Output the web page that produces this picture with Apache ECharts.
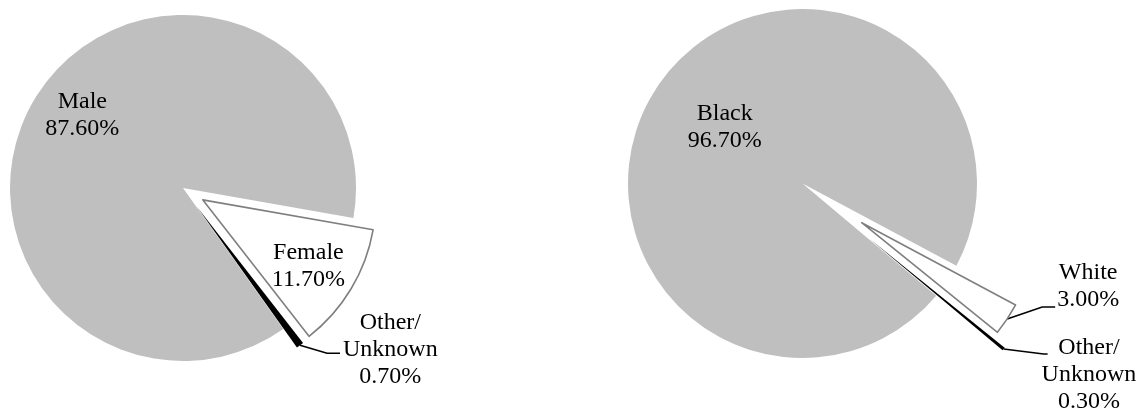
<!DOCTYPE html>
<html><head><meta charset="utf-8">
<script src="https://cdn.jsdelivr.net/npm/echarts@6/dist/echarts.min.js"></script>
<style>html,body{margin:0;padding:0;background:#fff}#c{width:1142px;height:411px}</style>
</head><body><div id="c"></div>
<script>
// ---- data ----
const genderLabels = ['Male', 'Female', 'Other/\nUnknown'];
const genderValues = [87.6, 11.7, 0.7];
const raceLabels = ['Black', 'White', 'Other/\nUnknown'];
const raceValues = [96.7, 3.0, 0.3];

// ---- styles ----
const GRAY = '#bfbfbf', EDGE = '#7f7f7f', INK = '#000000';
const FONT = "'Liberation Serif','Times New Roman',serif";
const textStyle = {fontFamily: FONT, fontSize: 24, lineHeight: 27, color: INK};

function fmt(name, v) {
  return (name + '\n' + v.toFixed(2) + '%').split('\n').map(t => '{t|' + t + '}').join('\n');
}

function pieSeries(names, values, cfg) {
  return names.map((nm, k) => {
    const s = cfg.slices[k];
    return {
      type: 'pie', silent: true, animation: false, avoidLabelOverlap: false,
      center: cfg.center, radius: cfg.radius, startAngle: cfg.startAngle, clockwise: true,
      selectedMode: 'multiple', selectedOffset: s.offset,
      emphasis: {disabled: true},
      data: names.map((n, i) => i === k ? {
        name: n, value: values[i], selected: s.offset > 0,
        itemStyle: {color: s.fill, borderColor: s.edge || s.fill, borderWidth: s.edge ? 1.6 : 0},
        label: Object.assign({show: true, position: s.pos, distanceToLabelLine: 0,
          formatter: () => fmt(n, values[i]),
          rich: {t: Object.assign({align: 'center'}, textStyle)}}, textStyle),
        labelLine: {show: s.pos === 'outside', length: 10, length2: 20, smooth: false,
          lineStyle: {color: INK, width: 1.6}}
      } : {
        name: n, value: values[i],
        itemStyle: {color: 'rgba(0,0,0,0)', borderWidth: 0},
        label: {show: false}, labelLine: {show: false}
      }),
      labelLayout: function (p) {
        if (p.dataIndex !== k) return {};
        if (s.line && p.labelLinePoints) {
          const d = p.labelLinePoints;
          const p0 = d[0];
          const p1 = [p0[0] + s.line[0], p0[1] + s.line[1]];
          const p2 = [p1[0] + s.line[2], p1[1]];
          const last = d[d.length - 1];
          return {
            labelLinePoints: [p0, p1, p2],
            dx: p2[0] + s.gap - last[0],
            dy: p2[1] + s.shift - last[1]
          };
        }
        return {dx: s.shift[0], dy: s.shift[1]};
      }
    };
  });
}

const series = [].concat(
  pieSeries(genderLabels, genderValues, {
    center: [183, 188], radius: 173, startAngle: -54.6,
    slices: [
      {fill: GRAY, offset: 0, pos: 'inside', shift: [-25, -25]},
      {fill: '#ffffff', edge: EDGE, offset: 23, pos: 'inside', shift: [29, 20]},
      {fill: INK, offset: 23, pos: 'outside', line: [27, 8, 13], gap: 3, shift: -4}
    ]
  }),
  pieSeries(raceLabels, raceValues, {
    center: [802.5, 183.5], radius: 174.5, startAngle: -40,
    slices: [
      {fill: GRAY, offset: 0, pos: 'inside', shift: [-3, -6]},
      {fill: '#ffffff', edge: EDGE, offset: 71, pos: 'outside', line: [35, -12, 13], gap: 2, shift: -21},
      {fill: INK, offset: 86, pos: 'outside', line: [40, 5, 4], gap: -6, shift: 21}
    ]
  })
);

const chart = echarts.init(document.getElementById('c'), null, {renderer: 'canvas'});
chart.setOption({animation: false, backgroundColor: '#ffffff', series: series});
</script>
</body></html>
